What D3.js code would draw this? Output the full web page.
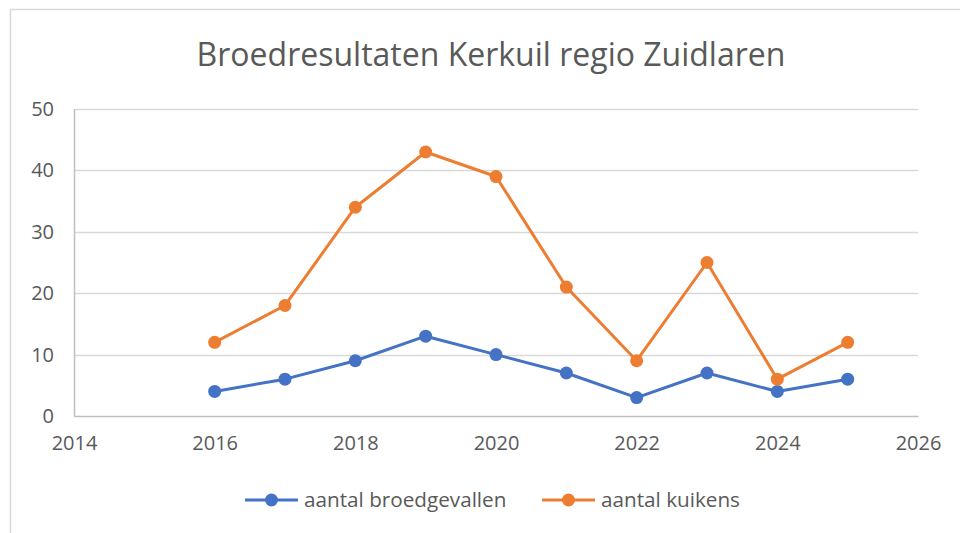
<!DOCTYPE html>
<html>
<head>
<meta charset="utf-8">
<script src="https://cdn.jsdelivr.net/npm/d3@7"></script>
<style>
  body { margin: 0; background: #fff; }
  svg { display: block; }
  text { font-family: 'Open Sans', 'Noto Sans', sans-serif; fill: #595959; }
</style>
</head>
<body>
<svg width="960" height="533"></svg>
<script>
// Data
const years = [2016, 2017, 2018, 2019, 2020, 2021, 2022, 2023, 2024, 2025];
const broedgevallen = [4, 6, 9, 13, 10, 7, 3, 7, 4, 6];
const kuikens = [12, 18, 34, 43, 39, 21, 9, 25, 6, 12];
const xTicks = [2014, 2016, 2018, 2020, 2022, 2024, 2026];
const yTicks = [0, 10, 20, 30, 40, 50];
const seriesNames = ['aantal broedgevallen', 'aantal kuikens'];
const colors = ['#4472c4', '#ed7d31'];

const svg = d3.select('svg');
const margin = { top: 109, right: 42, bottom: 117, left: 74 };
const width = +svg.attr('width');
const height = +svg.attr('height');
const innerWidth = width - margin.left - margin.right;
const innerHeight = height - margin.top - margin.bottom;

// Chart border (only left and top edges are visible in the crop)
svg.append('path')
  .attr('d', `M10.5,${height} V9.5 H${width}`)
  .attr('fill', 'none')
  .attr('stroke', '#d9d9d9')
  .attr('stroke-width', 1.5);

svg.append('text')
  .attr('x', 491)
  .attr('y', 66)
  .attr('text-anchor', 'middle')
  .attr('font-size', '32px')
  .text('Broedresultaten Kerkuil regio Zuidlaren');

const g = svg.append('g')
  .attr('transform', `translate(${margin.left},${margin.top})`);

const xScale = d3.scaleLinear().domain([2014, 2026]).range([0, innerWidth]);
const yScale = d3.scaleLinear().domain([0, 50]).range([innerHeight, 0]);

// Gridlines
g.append('g')
  .selectAll('line')
  .data(yTicks.slice(1))
  .join('line')
  .attr('x1', 0).attr('x2', innerWidth)
  .attr('y1', (d) => Math.round(yScale(d)) + 0.5)
  .attr('y2', (d) => Math.round(yScale(d)) + 0.5)
  .attr('stroke', '#d9d9d9')
  .attr('stroke-width', 1.5);

// Axes
const xAxis = d3.axisBottom(xScale).tickValues(xTicks).tickFormat(d3.format('d')).tickSize(0).tickPadding(10);
const xg = g.append('g').attr('transform', `translate(0,${innerHeight})`).call(xAxis);
xg.attr('font-size', 20).attr('font-family', null);
xg.select('.domain').attr('stroke', '#bfbfbf').attr('stroke-width', 1.5);
xg.selectAll('text').attr('dy', '1.2em').attr('fill', '#595959');

const yAxis = d3.axisLeft(yScale).tickValues(yTicks).tickSize(0).tickPadding(20);
const yg = g.append('g').call(yAxis);
yg.attr('font-size', 20).attr('font-family', null);
yg.select('.domain').attr('stroke', '#bfbfbf').attr('stroke-width', 1.5);
yg.selectAll('text').attr('fill', '#595959');

// Lines and markers
const line = d3.line()
  .x((d) => xScale(d[0]))
  .y((d) => yScale(d[1]));

[broedgevallen, kuikens].forEach((vals, i) => {
  const pts = years.map((y, j) => [y, vals[j]]);
  g.append('path')
    .datum(pts)
    .attr('fill', 'none')
    .attr('stroke', colors[i])
    .attr('stroke-width', 3)
    .attr('stroke-linejoin', 'round')
    .attr('d', line);
  g.append('g')
    .selectAll('circle')
    .data(pts)
    .join('circle')
    .attr('cx', (d) => xScale(d[0]))
    .attr('cy', (d) => yScale(d[1]))
    .attr('r', 6.5)
    .attr('fill', colors[i]);
});

// Legend
const legendX = [245, 542];
seriesNames.forEach((name, i) => {
  const lg = svg.append('g').attr('transform', `translate(${legendX[i]},500)`);
  lg.append('line')
    .attr('x1', 0).attr('x2', 53)
    .attr('stroke', colors[i]).attr('stroke-width', 3);
  lg.append('circle').attr('cx', 26.5).attr('r', 6.5).attr('fill', colors[i]);
  lg.append('text')
    .attr('x', 59)
    .attr('y', 7)
    .attr('font-size', '20.7px')
    .text(name);
});
</script>
</body>
</html>
